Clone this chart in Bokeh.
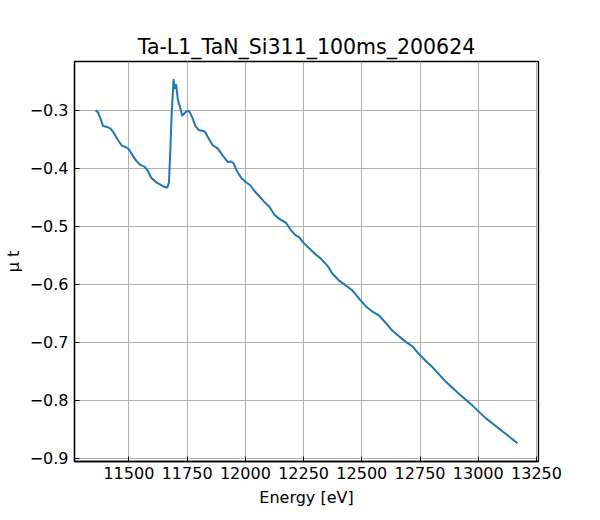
from bokeh.plotting import figure
from bokeh.models import FixedTicker, CustomJSTickFormatter, Range1d
from bokeh.embed import file_html
from bokeh.resources import INLINE

# ---- data ----
energy = [11357, 11367, 11379, 11389, 11403, 11420, 11434, 11453, 11470, 11486,
          11500, 11515, 11532, 11549, 11567, 11581, 11596, 11617, 11639, 11653,
          11665, 11672, 11678, 11684, 11692, 11697, 11703, 11710, 11720, 11729,
          11739, 11749, 11760, 11772, 11786, 11800, 11817, 11829, 11843, 11860,
          11882, 11903, 11925, 11939, 11949, 11963, 11982, 12000, 12021, 12039,
          12060, 12082, 12103, 12125, 12146, 12175, 12193, 12215, 12232, 12249,
          12275, 12301, 12325, 12353, 12375, 12404, 12432, 12461, 12489, 12518,
          12546, 12575, 12604, 12632, 12661, 12689, 12718, 12747, 12775, 12804,
          12861, 12918, 12975, 13033, 13090, 13147, 13168]
mu_t = [-0.300, -0.303, -0.315, -0.327, -0.328, -0.331, -0.338, -0.351, -0.361, -0.363,
        -0.367, -0.377, -0.387, -0.394, -0.397, -0.404, -0.416, -0.424, -0.429, -0.432,
        -0.433, -0.424, -0.367, -0.303, -0.247, -0.262, -0.256, -0.281, -0.295, -0.309,
        -0.305, -0.301, -0.302, -0.312, -0.327, -0.334, -0.335, -0.338, -0.349, -0.360,
        -0.366, -0.378, -0.389, -0.388, -0.391, -0.404, -0.416, -0.423, -0.429, -0.439,
        -0.448, -0.458, -0.466, -0.480, -0.487, -0.494, -0.505, -0.515, -0.519, -0.528,
        -0.538, -0.548, -0.556, -0.568, -0.582, -0.594, -0.602, -0.611, -0.625, -0.638,
        -0.647, -0.654, -0.667, -0.680, -0.690, -0.699, -0.707, -0.721, -0.732, -0.743,
        -0.768, -0.789, -0.809, -0.831, -0.849, -0.867, -0.874]
x_ticks = [11500, 11750, 12000, 12250, 12500, 12750, 13000, 13250]
y_ticks = [-0.9, -0.8, -0.7, -0.6, -0.5, -0.4, -0.3]
title_text = "Ta-L1_TaN_Si311_100ms_200624"
x_label = "Energy [eV]"
y_label = "\u03bc t"

# 5% margins like matplotlib autoscale
xmin, xmax = min(energy), max(energy)
ymin, ymax = min(mu_t), max(mu_t)
xpad = 0.05 * (xmax - xmin)
ypad = 0.05 * (ymax - ymin)

FONT = "DejaVu Sans"

p = figure(output_backend="svg", toolbar_location=None,
           frame_width=464, frame_height=400,
           min_border_left=68, min_border_right=50,
           min_border_top=61, min_border_bottom=46,
           x_range=Range1d(xmin - xpad, xmax + xpad),
           y_range=Range1d(ymin - ypad, ymax + ypad),
           title=title_text)

p.line(energy, mu_t, line_color="#1f77b4", line_width=2, line_join="round")

p.title.text_font = FONT
p.title.text_font_size = "20.5px"
p.title.text_font_style = "normal"
p.title.align = "center"
p.title.text_color = "black"
p.title.standoff = 6

p.outline_line_color = "black"
p.outline_line_width = 1.3
p.background_fill_color = "white"
p.border_fill_color = "white"

fmt_js = "return tick.toFixed(%d).replace('-', '\\u2212');"
p.xaxis.ticker = FixedTicker(ticks=x_ticks)
p.yaxis.ticker = FixedTicker(ticks=y_ticks)
p.xaxis.formatter = CustomJSTickFormatter(code=fmt_js % 0)
p.yaxis.formatter = CustomJSTickFormatter(code=fmt_js % 1)

for ax in (p.xaxis, p.yaxis):
    ax.axis_line_color = "black"
    ax.axis_line_width = 1.3
    ax.major_tick_in = 5
    ax.major_tick_out = 0
    ax.major_tick_line_color = "black"
    ax.minor_tick_line_color = None
    ax.major_label_text_font = FONT
    ax.major_label_text_font_size = "16px"
    ax.major_label_text_color = "black"
    ax.axis_label_text_font = FONT
    ax.axis_label_text_font_size = "16px"
    ax.axis_label_text_font_style = "normal"
    ax.axis_label_text_color = "black"

p.xaxis.axis_label = x_label
p.yaxis.axis_label = y_label
p.xaxis.major_label_standoff = 5
p.xaxis.axis_label_standoff = 6
p.yaxis.major_label_standoff = 6
p.yaxis.axis_label_standoff = 4

p.grid.grid_line_color = "#b0b0b0"
p.grid.grid_line_width = 1

open("out.html", "w").write(file_html(p, INLINE))
